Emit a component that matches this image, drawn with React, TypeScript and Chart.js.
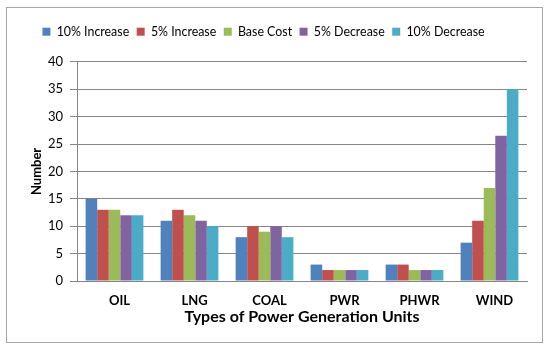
import React, { useEffect, useRef } from "react";
import { Chart, registerables } from "chart.js";

Chart.register(...registerables);

const categories = ["OIL", "LNG", "COAL", "PWR", "PHWR", "WIND"];
const seriesNames = ["10% Increase", "5% Increase", "Base Cost", "5% Decrease", "10% Decrease"];
const s10Inc = [15, 11, 8, 3, 3, 7];
const s5Inc = [13, 13, 10, 2, 3, 11];
const sBase = [13, 12, 9, 2, 2, 17];
const s5Dec = [12, 11, 10, 2, 2, 26.5];
const s10Dec = [12, 10, 8, 2, 2, 35];
const yTicks = [0, 5, 10, 15, 20, 25, 30, 35, 40];
const colors = ["#4F81BD", "#C0504D", "#9BBB59", "#8064A2", "#4BACC6"];

const FONT = "Lato, 'Open Sans', sans-serif";

export default function App() {
  const ref = useRef<HTMLCanvasElement>(null);
  useEffect(() => {
    if (!ref.current) return;
    const values = [s10Inc, s5Inc, sBase, s5Dec, s10Dec];
    const framePlugin = {
      id: "frame",
      afterInit(chart: any) {
        const lg = chart.legend;
        if (lg) {
          const orig = lg.fit;
          lg.fit = function (this: any) {
            orig.call(this);
            this.height += 14;
          };
        }
      },
      beforeDraw(chart: any) {
        const c = chart.ctx;
        c.save();
        c.fillStyle = "#ffffff";
        c.fillRect(0, 0, chart.width, chart.height);
        c.strokeStyle = "#a6a6a6";
        c.lineWidth = 1;
        c.strokeRect(6.5, 7.5, 536, 335);
        c.restore();
      },
    };
    const chart = new Chart(ref.current, {
      type: "bar",
      data: {
        labels: categories,
        datasets: seriesNames.map((name, i) => ({
          label: name,
          data: values[i],
          backgroundColor: colors[i],
          borderWidth: 0,
          categoryPercentage: 0.77,
          barPercentage: 1,
        })),
      },
      options: {
        animation: false,
        responsive: false,
        devicePixelRatio: 1,
        layout: { padding: { left: 0, right: 23, top: 18, bottom: 24 } },
        plugins: {
          legend: {
            position: "top",
            labels: {
              boxWidth: 8,
              boxHeight: 8,
              padding: 7.5,
              color: "#000",
              font: { family: FONT, size: 12.4 },
            },
          },
          tooltip: { enabled: false },
        },
        scales: {
          x: {
            afterFit(scale: any) {
              scale.height = 45;
            },
            grid: { display: false },
            border: { display: true, color: "#868686" },
            ticks: {
              color: "#000",
              font: { family: FONT, size: 13, weight: "bold" },
              padding: 4,
              labelOffset: 5,
            },
            title: {
              display: true,
              text: "Types of Power Generation Units",
              color: "#000",
              font: { family: FONT, size: 16, weight: "bold" },
              padding: { top: 0, bottom: 0 },
            },
          },
          y: {
            min: 0,
            max: 40,
            afterFit(scale: any) {
              scale.width = 77;
            },
            afterBuildTicks(scale: any) {
              scale.ticks = yTicks.map((v) => ({ value: v }));
            },
            grid: { color: "#868686", tickLength: 7, tickColor: "#868686" },
            border: { display: true, color: "#868686" },
            ticks: {
              color: "#000",
              font: { family: FONT, size: 13 },
              padding: 7,
            },
            title: {
              display: true,
              text: "Number",
              color: "#000",
              font: { family: FONT, size: 13, weight: "bold" },
              padding: { top: 29, bottom: 0 },
            },
          },
        },
      },
      plugins: [framePlugin],
    });
    return () => chart.destroy();
  }, []);
  return (
    <div style={{ position: "fixed", left: 0, top: 0, width: 550, height: 350 }}>
      <canvas ref={ref} width={550} height={350} />
    </div>
  );
}
